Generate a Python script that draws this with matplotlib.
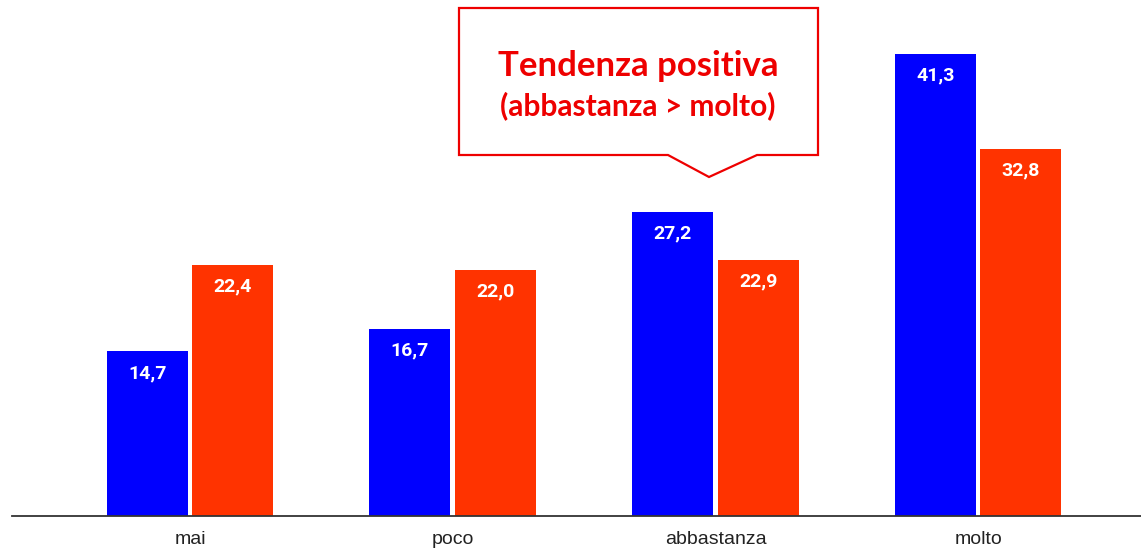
import matplotlib.pyplot as plt
from matplotlib.patches import Polygon

categories = ["mai", "poco", "abbastanza", "molto"]
serie_blu = [14.7, 16.7, 27.2, 41.3]
serie_rossa = [22.4, 22.0, 22.9, 32.8]

W, H = 1141, 550
fig = plt.figure(figsize=(W / 100, H / 100), dpi=100)
ax = fig.add_axes([0.0105, 1 - 516 / H, 1 - 0.0105, 516 / H])

x = list(range(len(categories)))
bw = 0.308
xb = [i - 0.163 for i in x]
xr = [i + 0.163 for i in x]
bars_b = ax.bar(xb, serie_blu, width=bw, color="#0000FF", zorder=2)
bars_r = ax.bar(xr, serie_rossa, width=bw, color="#FF3300", zorder=2)

for bars, vals in ((bars_b, serie_blu), (bars_r, serie_rossa)):
    for b, v in zip(bars, vals):
        ax.annotate(f"{v:.1f}".replace(".", ","),
                    (b.get_x() + b.get_width() / 2, v),
                    xytext=(0, -15.5), textcoords="offset points",
                    ha="center", va="center", color="white",
                    fontsize=14, fontweight="bold", family="Roboto", zorder=3)

ax.set_xlim(-0.678, 3.62)
ax.set_ylim(0, 46.1)
ax.set_xticks(x)
ax.set_xticklabels(categories, fontsize=14, family="Liberation Sans", color="#222222")
ax.tick_params(axis="x", length=0, pad=11)
ax.set_yticks([])
for s in ("top", "right", "left"):
    ax.spines[s].set_visible(False)
ax.spines["bottom"].set_color("#333333")
ax.spines["bottom"].set_linewidth(1.3)


def fp(px, py):
    return (px / W, 1 - py / H)


# callout
pts = [fp(459, 8), fp(818, 8), fp(818, 155), fp(757, 155), fp(709, 177),
       fp(668, 155), fp(459, 155)]
fig.patches.append(Polygon(pts, closed=True, transform=fig.transFigure,
                           facecolor="white", edgecolor="#EE0000", linewidth=1.6))
fig.text(*fp(638, 66), "Tendenza positiva", color="#EE0000", fontsize=25,
         fontweight="bold", family="Lato", ha="center", va="center")
fig.text(*fp(638, 106), "(abbastanza > molto)", color="#EE0000", fontsize=21.5,
         fontweight="bold", family="Lato", ha="center", va="center")

fig.savefig("out.png", dpi=100)
